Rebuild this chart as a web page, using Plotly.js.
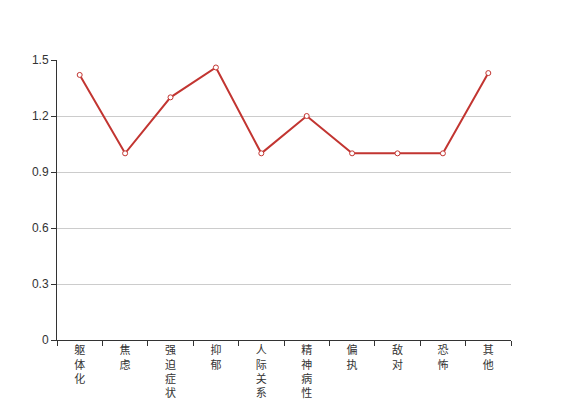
<!DOCTYPE html>
<html><head><meta charset="utf-8">
<script src="https://cdn.plot.ly/plotly-3.0.1.min.js"></script>
<style>html,body{margin:0;padding:0;background:#fff;}#chart{width:567px;height:400px;}</style>
</head><body><div id="chart"></div>
<script>
var categories = ['躯体化','焦虑','强迫症状','抑郁','人际关系敏感','精神病性','偏执','敌对','恐怖','其他'];
var values = [1.42, 1.0, 1.3, 1.46, 1.0, 1.2, 1.0, 1.0, 1.0, 1.43];
var yTicks = [0, 0.3, 0.6, 0.9, 1.2, 1.5];
var yTickLabels = ['0','0.3','0.6','0.9','1.2','1.5'];

var vertLabels = categories.map(function(c){ return c.split('').join('<br>'); });

var trace = {
  type: 'scatter', mode: 'lines+markers',
  x: categories, y: values,
  line: {color: '#c23531', width: 2},
  marker: {symbol: 'circle', size: 5, color: '#ffffff', line: {color: '#c23531', width: 1}},
  hoverinfo: 'none'
};
var layout = {
  width: 567, height: 400,
  margin: {l: 57, r: 56, t: 60, b: 60},
  paper_bgcolor: '#fff', plot_bgcolor: '#fff',
  showlegend: false,
  font: {family: '"Noto Sans CJK SC", "Liberation Sans", sans-serif', size: 11, color: '#333'},
  xaxis: {
    type: 'category', tickmode: 'array', tickvals: categories, ticktext: vertLabels,
    range: [-0.5, categories.length - 0.5],
    tickson: 'boundaries', ticks: 'outside', ticklen: 5, tickcolor: '#333', tickwidth: 1,
    showline: true, linecolor: '#333', linewidth: 1, showgrid: false, zeroline: false,
    tickangle: 0, tickfont: {size: 11, color: '#333'}
  },
  yaxis: {
    range: [0, 1.5], tickmode: 'array', tickvals: yTicks, ticktext: yTickLabels,
    ticks: 'outside', ticklen: 5, tickcolor: '#333', tickwidth: 1,
    showline: true, linecolor: '#333', linewidth: 1,
    showgrid: true, gridcolor: '#ccc', gridwidth: 1, zeroline: false,
    tickfont: {family: '"Liberation Sans", Arial, sans-serif', size: 12, color: '#333'}
  }
};
Plotly.newPlot('chart', [trace], layout, {displayModeBar: false, staticPlot: true});
</script>
</body></html>
